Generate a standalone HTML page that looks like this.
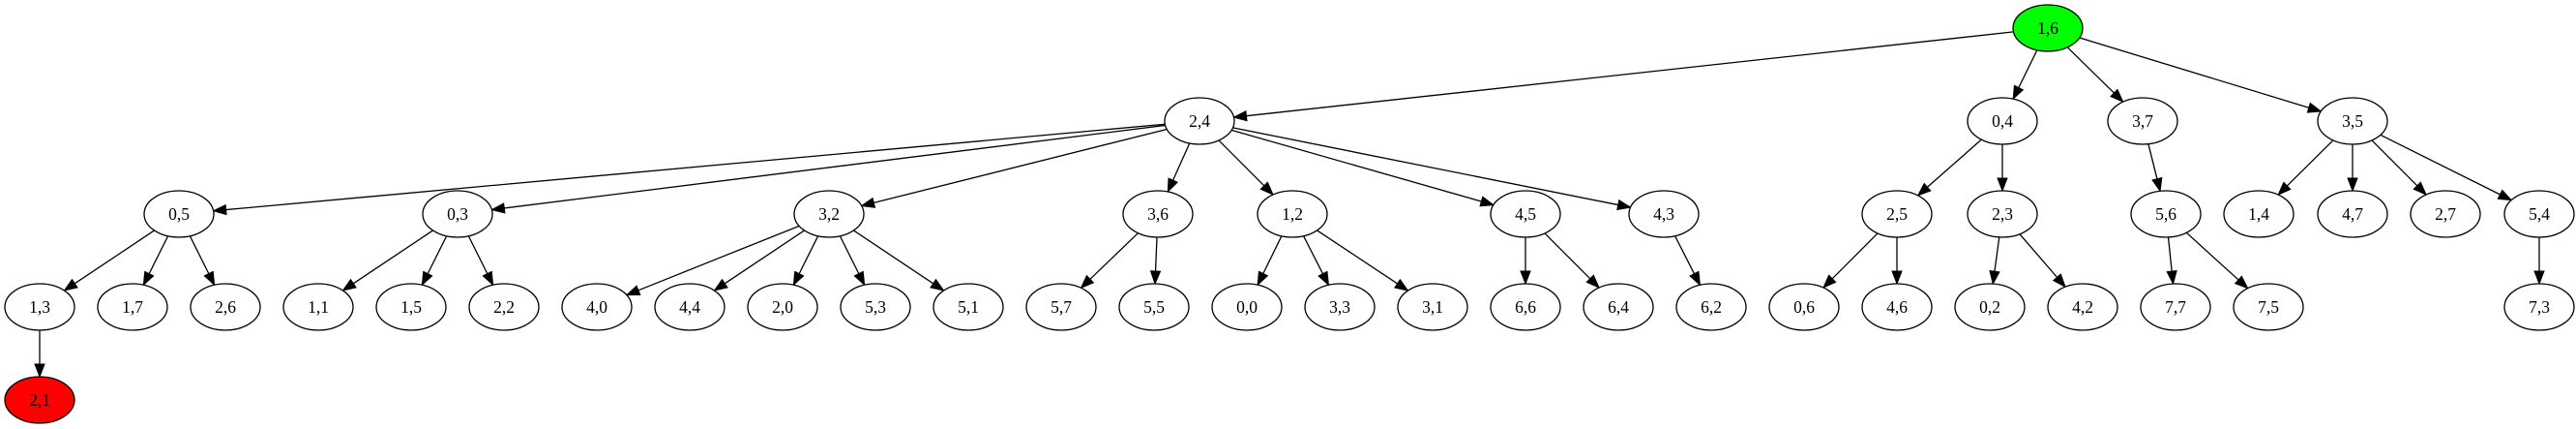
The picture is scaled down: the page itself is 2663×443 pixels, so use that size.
<!DOCTYPE html>
<html><head><meta charset="utf-8"><style>
html,body{margin:0;padding:0;background:#fff;}
svg{display:block;}
text{font-family:"Liberation Serif",serif;font-size:17.5px;}
</style></head><body>
<svg id="g" xmlns="http://www.w3.org/2000/svg" width="2663" height="443" viewBox="0 0 2663 443">
<rect width="2663" height="443" fill="#fff"/>
</svg>
<script>
var N={
"1,6":[2117,29],
"2,4":[1240,125],"0,4":[2070,125],"3,7":[2215,125],"3,5":[2432,125],
"0,5":[185,221],"0,3":[473,221],"3,2":[857,221],"3,6":[1197,221],"1,2":[1336,221],"4,5":[1577,221],"4,3":[1720,221],
"2,5":[1961,221],"2,3":[2070,221],"5,6":[2239,221],"1,4":[2335,221],"4,7":[2432,221],"2,7":[2528,221],"5,4":[2625,221],
"1,3":[41,317],"1,7":[137,317],"2,6":[233,317],"1,1":[329,317],"1,5":[425,317],"2,2":[521,317],"4,0":[617,317],"4,4":[713,317],
"2,0":[809,317],"5,3":[905,317],"5,1":[1001,317],"5,7":[1097,317],"5,5":[1193,317],"0,0":[1289,317],"3,3":[1385,317],"3,1":[1481,317],
"6,6":[1577,317],"6,4":[1673,317],"6,2":[1769,317],"0,6":[1865,317],"4,6":[1961,317],"0,2":[2057,317],"4,2":[2153,317],
"7,7":[2249,317],"7,5":[2345,317],"7,3":[2625,317],
"2,1":[41,413]};
var E={"1,6":["2,4","0,4","3,7","3,5"],"2,4":["0,5","0,3","3,2","3,6","1,2","4,5","4,3"],
"0,5":["1,3","1,7","2,6"],"0,3":["1,1","1,5","2,2"],"3,2":["4,0","4,4","2,0","5,3","5,1"],
"3,6":["5,7","5,5"],"1,2":["0,0","3,3","3,1"],"4,5":["6,6","6,4"],"4,3":["6,2"],"0,4":["2,5","2,3"],
"3,7":["5,6"],"3,5":["1,4","4,7","2,7","5,4"],"2,5":["0,6","4,6"],"2,3":["0,2","4,2"],"5,6":["7,7","7,5"],
"5,4":["7,3"],"1,3":["2,1"]};
var RX=36,RY=24,s='';
function bd(c,dx,dy){var t=1/Math.sqrt(dx*dx/(RX*RX)+dy*dy/(RY*RY));return [c[0]+dx*t,c[1]+dy*t];}
for(var a in E){E[a].forEach(function(b){var p=N[a],q=N[b],dx=q[0]-p[0],dy=q[1]-p[1];
var s0=bd(p,dx,dy),e=bd(q,-dx,-dy);var L=Math.hypot(e[0]-s0[0],e[1]-s0[1]),ux=(e[0]-s0[0])/L,uy=(e[1]-s0[1])/L;
var bx=e[0]-ux*13,by=e[1]-uy*13,px=-uy*5,py=ux*5;
s+='<line x1="'+s0[0]+'" y1="'+s0[1]+'" x2="'+bx+'" y2="'+by+'" stroke="#000" stroke-width="1.3"/>';
s+='<polygon points="'+e[0]+','+e[1]+' '+(bx+px)+','+(by+py)+' '+(bx-px)+','+(by-py)+'" fill="#000" stroke="#000"/>';});}
for(var k in N){var c=N[k],f=k=="1,6"?"#00ff00":(k=="2,1"?"#ff0000":"#fff");
s+='<ellipse cx="'+c[0]+'" cy="'+c[1]+'" rx="'+RX+'" ry="'+RY+'" fill="'+f+'" stroke="#000" stroke-width="1.3"/>';
s+='<text x="'+c[0]+'" y="'+(c[1]+6)+'" text-anchor="middle">'+k+'</text>';}
document.getElementById('g').insertAdjacentHTML('beforeend',s);
</script>
</body></html>
